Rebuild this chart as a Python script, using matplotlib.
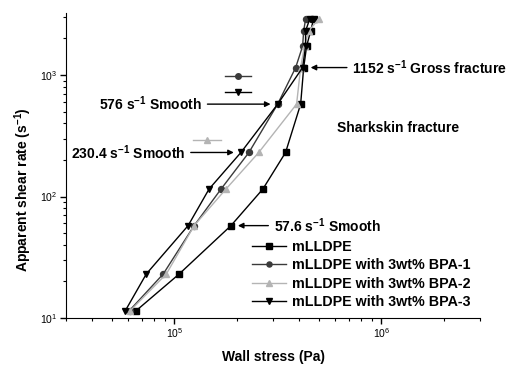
import matplotlib
matplotlib.use("Agg")
import matplotlib.pyplot as plt
from matplotlib.ticker import LogLocator

plt.rcParams['font.family'] = ['Liberation Sans', 'DejaVu Sans']
plt.rcParams['mathtext.fontset'] = 'custom'
plt.rcParams['mathtext.rm'] = 'Liberation Sans'
plt.rcParams['mathtext.bf'] = 'Liberation Sans:bold'

# Data
shear_rate = [11.52, 23.04, 57.6, 115.2, 230.4, 576, 1152, 1728, 2304, 2880]
stress_mlldpe = [65600, 105700, 188000, 268000, 345000, 408000, 422000, 436000, 456000, 471000]
stress_bpa1 = [60800, 88500, 124800, 168300, 229500, 316000, 386000, 417000, 422000, 431000]
stress_bpa2 = [61400, 91600, 124800, 177800, 256000, 390000, 408000, 426000, 446000, 498000]
stress_bpa3 = [58100, 73300, 116700, 147300, 210000, 316000, 417000, 431000, 431000, 451000]

labels = ['mLLDPE', 'mLLDPE with 3wt% BPA-1', 'mLLDPE with 3wt% BPA-2', 'mLLDPE with 3wt% BPA-3']
colors = ['black', '#3a3a3a', '#b4b4b4', 'black']
markers = ['s', 'o', '^', 'v']

fig = plt.figure(figsize=(5.07, 3.67), dpi=100)
ax = fig.add_axes([66 / 507, 1 - 318 / 367, 414 / 507, 305 / 367])

for xs, lab, c, m in zip([stress_mlldpe, stress_bpa1, stress_bpa2, stress_bpa3], labels, colors, markers):
    ax.plot(xs, shear_rate, color=c, marker=m, markersize=4.3, lw=1.0, label=lab)

ax.set_xscale('log')
ax.set_yscale('log')
ax.set_xlim(3e4, 3e6)
ax.set_ylim(10, 3240)

ax.spines['top'].set_visible(False)
ax.spines['right'].set_visible(False)
ax.xaxis.set_minor_locator(LogLocator(base=10, subs=range(2, 10), numticks=20))
ax.yaxis.set_minor_locator(LogLocator(base=10, subs=range(2, 10), numticks=20))
ax.tick_params(which='major', direction='out', length=4, width=1, labelsize=7.5, pad=2)
ax.tick_params(which='minor', direction='out', length=2.5, width=0.8)

sup = '$^{\\mathbf{-1}}$'
ax.set_xlabel('Wall stress (Pa)', fontsize=10, fontweight='bold')
ax.set_ylabel('Apparent shear rate (s' + sup + ')', fontsize=10, fontweight='bold')
ax.yaxis.set_label_coords(-0.078, 0.42)
ax.xaxis.set_label_coords(0.5, -0.105)

# Annotations
arrow = dict(arrowstyle='-|>', color='black', lw=1.0, mutation_scale=8, shrinkA=2, shrinkB=0)
ax.annotate('1152 s' + sup + ' Gross fracture', xy=(456000, 1152), xytext=(726000, 1152),
            ha='left', va='center', fontsize=10, fontweight='bold', arrowprops=arrow)
ax.annotate('576 s' + sup + ' Smooth', xy=(292000, 576), xytext=(136000, 576),
            ha='right', va='center', fontsize=10, fontweight='bold', arrowprops=arrow)
ax.annotate('230.4 s' + sup + ' Smooth', xy=(194000, 230.4), xytext=(113000, 230.4),
            ha='right', va='center', fontsize=10, fontweight='bold', arrowprops=arrow)
ax.annotate('57.6 s' + sup + ' Smooth', xy=(203000, 57.6), xytext=(303000, 57.6),
            ha='left', va='center', fontsize=10, fontweight='bold', arrowprops=arrow)
ax.text(608000, 366, 'Sharkskin fracture', ha='left', va='center', fontsize=10, fontweight='bold')

# stray legend keys near the annotations
keys = [(0.384, 0.447, 0.793, colors[1], markers[1]),
        (0.384, 0.447, 0.741, colors[3], markers[3]),
        (0.307, 0.374, 0.584, colors[2], markers[2])]
for x0, x1, y, c, m in keys:
    ax.plot([x0, (x0 + x1) / 2, x1], [y, y, y], color=c, marker=m, markersize=4, lw=1.0,
            markevery=[1], transform=ax.transAxes, clip_on=False)

ax.legend(loc='lower left', bbox_to_anchor=((252 - 66) / 414, 0.03), frameon=False,
          prop={'weight': 'bold', 'size': 10.3}, handlelength=2.4, handletextpad=0.4,
          labelspacing=0.3, borderpad=0, borderaxespad=0, markerscale=0.85)

fig.savefig('out.png', dpi=100)
